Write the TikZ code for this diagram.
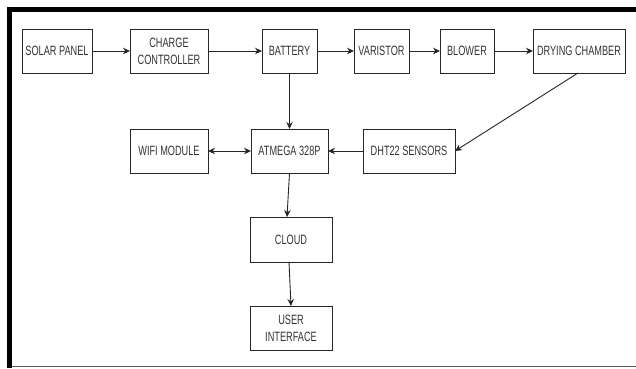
\documentclass[tikz,border=0pt]{standalone}
\usepackage{fontspec}
\setmainfont[FakeStretch=0.68]{Liberation Sans}
\usetikzlibrary{arrows.meta}
\definecolor{edge}{HTML}{262626}
\definecolor{ink}{HTML}{333333}
\tikzset{
  block/.style={draw=edge, line width=0.9pt, fill=white, inner sep=0pt, outer sep=0pt,
    minimum height=44pt, align=center, text=ink,
    font=\fontsize{13.5pt}{17pt}\selectfont},
  link/.style={draw=edge, line width=0.9pt, -{Stealth[length=7pt,width=6.5pt]}},
  dlink/.style={draw=edge, line width=0.9pt, {Stealth[length=7pt,width=6.5pt]}-{Stealth[length=7pt,width=6.5pt]}}
}
\begin{document}
\begin{tikzpicture}[x=1pt,y=-1pt]
\useasboundingbox (0,0) rectangle (636,368);
% page frame
\draw[line width=0.9pt, gray!70!black] (9,366) -- (636,366);
\draw[line width=5pt, black] (9,368) -- (9,9.5) -- (636,9.5);

% top row
\node[block, minimum width=70pt] (solar) at (57,51) {SOLAR PANEL};
\node[block, minimum width=78pt] (charge) at (169,51) {CHARGE\\CONTROLLER};
\node[block, minimum width=55pt] (battery) at (289.5,51) {BATTERY};
\node[block, minimum width=55pt] (varistor) at (381.5,51) {VARISTOR};
\node[block, minimum width=54pt] (blower) at (467,51) {BLOWER};
\node[block, minimum width=92pt] (drying) at (579,51) {DRYING CHAMBER};

% middle row
\node[block, minimum width=78pt] (wifi) at (169,151) {WIFI MODULE};
\node[block, minimum width=77pt] (atmega) at (289.5,151) {ATMEGA 328P};
\node[block, minimum width=92pt] (dht) at (409,151) {DHT22 SENSORS};

% bottom column
\node[block, minimum width=82pt, minimum height=45pt] (cloud) at (291,239.5) {CLOUD};
\node[block, minimum width=82pt] (ui) at (291,328) {USER\\INTERFACE};

% connectors
\draw[link] (solar) -- (charge);
\draw[link] (charge) -- (battery);
\draw[link] (battery) -- (varistor);
\draw[link] (varistor) -- (blower);
\draw[link] (blower) -- (drying);
\draw[link] (battery) -- (atmega);
\draw[link] ([xshift=-1pt]drying.south) -- (dht.east);
\draw[link] (dht) -- (atmega);
\draw[dlink] (wifi) -- (atmega);
\draw[link] (atmega.south) -- ([xshift=-4pt]cloud.north);
\draw[link] ([xshift=-2pt]cloud.south) -- (ui.north);
\end{tikzpicture}
\end{document}
